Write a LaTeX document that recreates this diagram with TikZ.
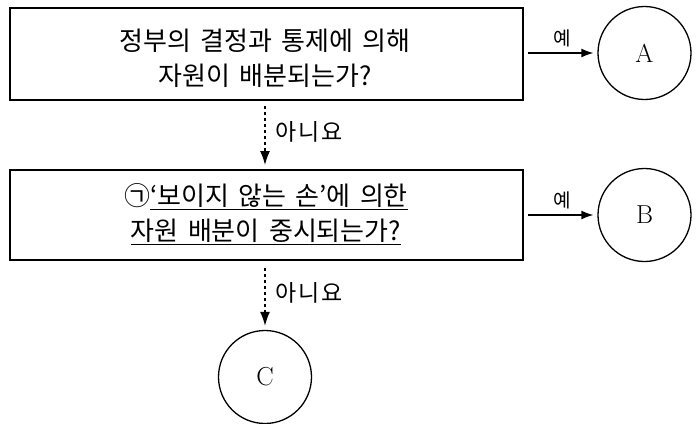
\documentclass[tikz,border=0pt]{standalone}
\usepackage{fontspec}
\newfontfamily\kr{Noto Sans CJK KR}
\newfontfamily\krlbl[LetterSpace=10]{Noto Sans CJK KR}
\newfontfamily\krbox[WordSpace=1.6]{Noto Sans CJK KR}
\usetikzlibrary{arrows.meta}
\begin{document}
\begin{tikzpicture}[x=1pt,y=-1pt,
  qbox/.style={draw, line width=1.5pt, minimum width=513pt, anchor=north west, inner sep=0pt},
  endc/.style={draw, circle, line width=1.3pt, minimum size=93pt, inner sep=0pt, font=\fontsize{26}{26}\selectfont},
  qtext/.style={font=\krbox\fontsize{26}{35}\selectfont, align=center},
  lbl/.style={font=\krlbl\fontsize{23}{23}\selectfont},
  ylbl/.style={font=\kr\fontsize{19}{19}\selectfont},
  yes/.style={-{Latex[length=12pt,width=9pt]}, line width=1.3pt, shorten >=4pt},
  no/.style={-{Latex[length=14pt,width=10pt]}, line width=1.4pt, dash pattern=on 3pt off 3pt}]
\useasboundingbox (0,0) rectangle (696,423);
\node[qbox, minimum height=92pt] (q1) at (9,7) {};
\node[qtext] (t1) at (265,58) {정부의 결정과 통제에 의해\\자원이 배분되는가?};
\node[qbox, minimum height=90pt] (q2) at (9,169) {};
\node[qtext] (t2) at (266,214) {㉠\underline{‘보이지 않는 손’에 의한}\\\underline{자원 배분이 중시되는가?}};
\node[endc] (A) at (644.5,53) {A};
\node[endc] (B) at (644.5,215) {B};
\node[endc] (C) at (265,377) {C};
\coordinate (a1) at (528,53);
\coordinate (b1) at (528,215);
\draw[yes] (a1) -- (A.west |- a1) node[ylbl, midway, above=2pt] {예};
\draw[yes] (b1) -- (B.west |- b1) node[ylbl, midway, above=2pt] {예};
\coordinate (n1) at (265,106);
\coordinate (n2) at (265,268);
\draw[no, shorten >=4pt] (n1) -- (q2.north -| n1) node[lbl, pos=0.41, right=6pt] {아니요};
\draw[no, shorten >=4pt] (n2) -- (C.north) node[lbl, pos=0.4, right=6pt] {아니요};
\end{tikzpicture}
\end{document}
